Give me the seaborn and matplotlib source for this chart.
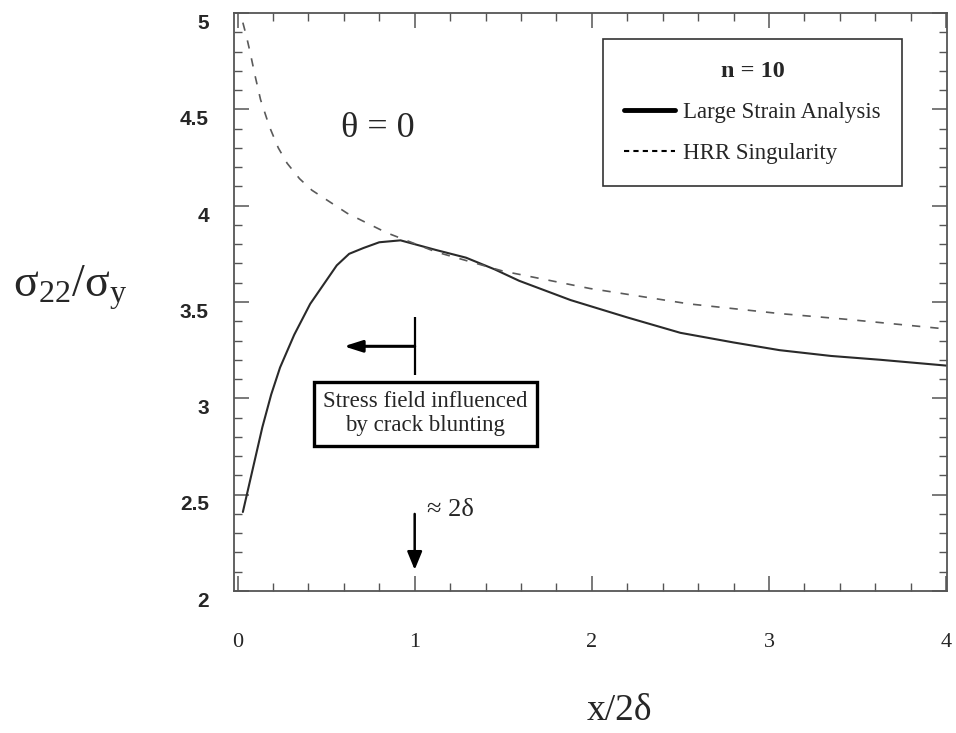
import matplotlib
matplotlib.use("Agg")
import matplotlib.pyplot as plt
from matplotlib.lines import Line2D
from matplotlib.transforms import ScaledTranslation
from matplotlib.ticker import MultipleLocator, FixedLocator
import seaborn as sns
import pandas as pd

# ---- data ----
large_x = [0.03, 0.09, 0.14, 0.19, 0.24, 0.32, 0.41, 0.50, 0.56, 0.63, 0.71, 0.80, 0.92, 1.12,
           1.29, 1.45, 1.59, 1.88, 2.20, 2.50, 2.80, 3.06, 3.35, 3.63, 4.0]
large_y = [2.41, 2.65, 2.85, 3.02, 3.16, 3.33, 3.49, 3.61, 3.69, 3.75, 3.78, 3.81, 3.82, 3.77,
           3.73, 3.67, 3.61, 3.51, 3.42, 3.34, 3.29, 3.25, 3.22, 3.20, 3.17]
hrr_x = [0.03, 0.05, 0.07, 0.10, 0.13, 0.18, 0.23, 0.28, 0.35, 0.42, 0.52, 0.62, 0.73, 0.84,
         1.12, 1.50, 1.99, 2.55, 3.06, 3.44, 4.0]
hrr_y = [4.95, 4.88, 4.80, 4.67, 4.55, 4.41, 4.30, 4.22, 4.14, 4.08, 4.02, 3.96, 3.91, 3.86,
         3.76, 3.66, 3.57, 3.49, 3.44, 3.41, 3.36]
xticks = [0, 1, 2, 3, 4]
xtick_labels = ["0", "1", "2", "3", "4"]
yticks = [2, 2.5, 3, 3.5, 4, 4.5, 5]
ytick_labels = ["2", "2.5", "3", "3.5", "4", "4.5", "5"]
series_names = ["Large Strain Analysis", "HRR Singularity"]

df = pd.concat([
    pd.DataFrame({"x": large_x, "y": large_y, "series": series_names[0]}),
    pd.DataFrame({"x": hrr_x, "y": hrr_y, "series": series_names[1]}),
])

sns.set_style("ticks")
plt.rcParams["font.family"] = ["Liberation Serif", "DejaVu Serif"]
plt.rcParams["mathtext.fontset"] = "custom"
plt.rcParams["mathtext.rm"] = "Liberation Serif"
plt.rcParams["mathtext.it"] = "Liberation Serif"
plt.rcParams["mathtext.bf"] = "Liberation Serif:bold"

fig = plt.figure(figsize=(9.56, 7.33), dpi=100)
ax = fig.add_axes([234 / 956, 1 - 591 / 733, (947 - 234) / 956, (591 - 13) / 733])

sns.lineplot(data=df[df.series == series_names[0]], x="x", y="y", ax=ax,
             color="#2a2a2a", lw=1.5, legend=False, sort=False)
sns.lineplot(data=df[df.series == series_names[1]], x="x", y="y", ax=ax,
             color="#5a5a5a", lw=1.2, legend=False, sort=False)
ax.lines[1].set_linestyle((0, (5, 6)))

ax.set_xlim(-0.02, 4.005)
ax.set_ylim(2, 5)
ax.xaxis.set_major_locator(FixedLocator(xticks))
ax.set_xticklabels(xtick_labels)
ax.xaxis.set_minor_locator(MultipleLocator(0.2))
ax.yaxis.set_major_locator(FixedLocator(yticks))
ax.set_yticklabels(ytick_labels)
ax.yaxis.set_minor_locator(MultipleLocator(0.1))

spine_color = "#555555"
for s in ax.spines.values():
    s.set_color(spine_color)
    s.set_linewidth(1.3)
ax.tick_params(which="both", direction="in", top=True, right=True, color=spine_color)
ax.tick_params(which="major", length=11, width=1.1)
ax.tick_params(which="minor", length=6, width=1.0)
ax.tick_params(axis="x", which="major", pad=30, labelsize=16)
ax.tick_params(axis="y", which="major", pad=18, labelsize=15)

for lbl in ax.get_xticklabels():
    lbl.set_fontfamily(["Liberation Serif"])
for lbl in ax.get_yticklabels():
    lbl.set_fontfamily(["Liberation Sans"])
    lbl.set_fontweight("bold")
    lbl.set_transform(lbl.get_transform() + ScaledTranslation(0, -6 / 72, fig.dpi_scale_trans))

ax.set_xlabel("x/2δ", fontsize=27, fontfamily=["Liberation Serif"])
ax.xaxis.set_label_coords(0.541, -0.207)
ax.xaxis.label.set_va("center")
ax.set_ylabel("σ$_{22}$/σ$_{\\mathrm{y}}$", fontsize=33, rotation=0)
ax.yaxis.set_label_coords(-0.230, 0.525)
ax.yaxis.label.set_va("center")
ax.yaxis.label.set_ha("center")

ax.text(0.79, 4.40, "θ = 0", fontsize=26, ha="center", va="center",
        fontfamily=["Liberation Serif"])

# legend
handles = [Line2D([], [], color="black", lw=3.5),
           Line2D([], [], color="black", lw=1.5, linestyle=(0, (2.5, 2)))]
leg = ax.legend(handles, series_names, title="n = 10", loc="upper left",
                bbox_to_anchor=(0.517, 0.955), borderaxespad=0, fancybox=False,
                frameon=True, edgecolor="#333333", fontsize=16.5, title_fontsize=17.5,
                handlelength=2.2, handletextpad=0.35, labelspacing=0.88,
                borderpad=0.95, framealpha=1)
leg.get_frame().set_linewidth(1.2)
leg.get_title().set_fontweight("bold")
leg.get_title().set_fontfamily(["Liberation Serif"])

# annotations
ax.vlines(1.0, 3.12, 3.42, color="black", lw=1.6)
ax.annotate("", xy=(0.60, 3.27), xytext=(1.0, 3.27),
            arrowprops=dict(arrowstyle="-|>,head_length=1.1,head_width=0.35", lw=2.2,
                            color="black", shrinkA=0, shrinkB=0))
ax.text(1.06, 2.92, "Stress field influenced\nby crack blunting", fontsize=16.5,
        ha="center", va="center", linespacing=1.2,
        bbox=dict(boxstyle="square,pad=0.4", fc="white", ec="black", lw=2.4))
ax.annotate("", xy=(1.0, 2.11), xytext=(1.0, 2.40),
            arrowprops=dict(arrowstyle="-|>,head_length=1.1,head_width=0.45", lw=1.8,
                            color="black", shrinkA=0, shrinkB=0))
ax.text(1.07, 2.42, "≈ 2δ", fontsize=19, ha="left", va="center")

fig.savefig("out.png", dpi=100)
